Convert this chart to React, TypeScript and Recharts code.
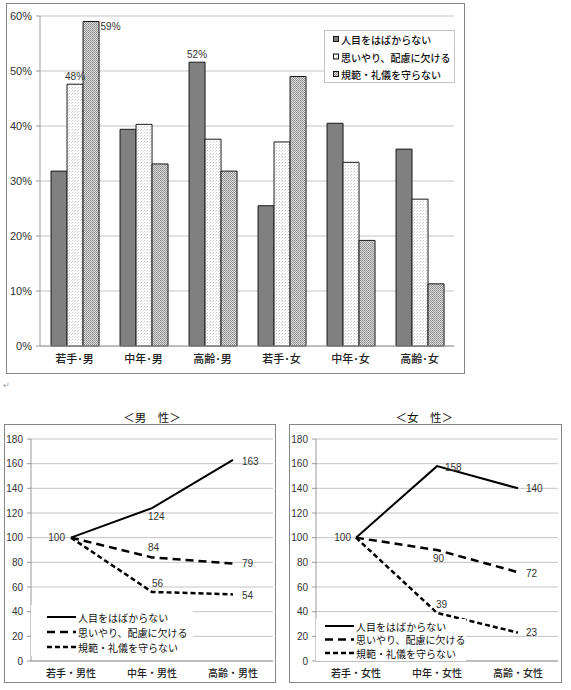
import React from "react";
import {
  BarChart,
  Bar,
  LineChart,
  Line,
  XAxis,
  YAxis,
  CartesianGrid,
  LabelList,
} from "recharts";

// Top bar chart: share of complaints by group (%)
const BAR_CATEGORIES = ["若手･男", "中年･男", "高齢･男", "若手･女", "中年･女", "高齢･女"];
const BAR_HITOME = [31.8, 39.4, 51.6, 25.5, 40.5, 35.8];
const BAR_OMOIYARI = [47.6, 40.3, 37.6, 37.1, 33.4, 26.7];
const BAR_KIHAN = [59.0, 33.1, 31.8, 49.0, 19.2, 11.3];
const PCT_TICKS = [0, 10, 20, 30, 40, 50, 60];
// which bars carry a value label
const LABELED_HITOME = [2];
const LABELED_OMOIYARI = [0];
const LABELED_KIHAN = [0];

const SERIES_NAMES = ["人目をはばからない", "思いやり、配慮に欠ける", "規範・礼儀を守らない"];

// Bottom line charts: index (若手 = 100)
const MALE_CATEGORIES = ["若手・男性", "中年・男性", "高齢・男性"];
const MALE_HITOME = [100, 124, 163];
const MALE_OMOIYARI = [100, 84, 79];
const MALE_KIHAN = [100, 56, 54];

const FEMALE_CATEGORIES = ["若手・女性", "中年・女性", "高齢・女性"];
const FEMALE_HITOME = [100, 158, 140];
const FEMALE_OMOIYARI = [100, 90, 72];
const FEMALE_KIHAN = [100, 39, 23];

const INDEX_TICKS = [0, 20, 40, 60, 80, 100, 120, 140, 160, 180];

const barData = BAR_CATEGORIES.map((name, i) => ({
  name,
  hitome: BAR_HITOME[i],
  omoiyari: BAR_OMOIYARI[i],
  kihan: BAR_KIHAN[i],
}));

const buildLineData = (cats: string[], a: number[], b: number[], c: number[]) =>
  cats.map((name, i) => ({ name, hitome: a[i], omoiyari: b[i], kihan: c[i] }));

const maleData = buildLineData(MALE_CATEGORIES, MALE_HITOME, MALE_OMOIYARI, MALE_KIHAN);
const femaleData = buildLineData(FEMALE_CATEGORIES, FEMALE_HITOME, FEMALE_OMOIYARI, FEMALE_KIHAN);

const JP = '"Noto Sans CJK JP", "Noto Sans", sans-serif';
const NUM = '"Liberation Sans", Arial, sans-serif';

type Place = { dx: number; dy: number; anchor: "start" | "end" | "middle" } | null;

// label offsets for the line charts, per point
const MALE_PLACES: Record<string, Place[]> = {
  hitome: [{ dx: -6, dy: 0, anchor: "end" }, { dx: -4, dy: 8, anchor: "start" }, { dx: 9, dy: 2, anchor: "start" }],
  omoiyari: [null, { dx: -4, dy: -10, anchor: "start" }, { dx: 9, dy: 0, anchor: "start" }],
  kihan: [null, { dx: 0, dy: -8, anchor: "start" }, { dx: 9, dy: 1, anchor: "start" }],
};
const FEMALE_PLACES: Record<string, Place[]> = {
  hitome: [{ dx: -5, dy: 0, anchor: "end" }, { dx: 8, dy: 1, anchor: "start" }, { dx: 8, dy: 0, anchor: "start" }],
  omoiyari: [null, { dx: -4, dy: 8, anchor: "start" }, { dx: 8, dy: 1, anchor: "start" }],
  kihan: [null, { dx: -1, dy: -8, anchor: "start" }, { dx: 8, dy: 0, anchor: "start" }],
};

const LINE_STYLES = [
  { key: "hitome", dash: undefined as string | undefined, width: 2 },
  { key: "omoiyari", dash: "8 5", width: 2.5 },
  { key: "kihan", dash: "5 3", width: 2.5 },
];

function Patterns({ prefix }: { prefix: string }) {
  return (
    <defs>
      <pattern id={`${prefix}-dots`} width="3" height="3" patternUnits="userSpaceOnUse">
        <rect width="3" height="3" fill="#ffffff" />
        <rect x="0" y="0" width="1" height="1" fill="#c8c8c8" />
        <rect x="2" y="1" width="1" height="1" fill="#dddddd" />
      </pattern>
      <pattern id={`${prefix}-hatch`} width="2" height="2" patternUnits="userSpaceOnUse">
        <rect width="2" height="2" fill="#dcdcdc" />
        <rect x="0" y="0" width="1" height="1" fill="#8c8c8c" />
        <rect x="1" y="1" width="1" height="1" fill="#9a9a9a" />
      </pattern>
    </defs>
  );
}

const barLabel = (shown: number[], side: "top" | "right") => (p: any) => {
  const { x, y, width, value, index } = p;
  if (!shown.includes(index)) return null;
  const text = `${Math.round(value)}%`;
  if (side === "right") {
    return (
      <text x={x + width + 1.5} y={y + 5} dominantBaseline="central" fontSize={10} fontFamily={NUM} fill="#333">
        {text}
      </text>
    );
  }
  return (
    <text x={x + width / 2} y={y - 8} textAnchor="middle" dominantBaseline="central" fontSize={10} fontFamily={NUM} fill="#333">
      {text}
    </text>
  );
};

const lineLabel = (places: Place[]) => (p: any) => {
  const { x, y, value, index } = p;
  const pl = places[index];
  if (!pl) return null;
  return (
    <text
      x={x + pl.dx}
      y={y + pl.dy}
      textAnchor={pl.anchor}
      dominantBaseline="central"
      fontSize={10}
      fontFamily={NUM}
      fill="#333"
    >
      {value}
    </text>
  );
};

function TopLegend() {
  const fills = ["#808080", "url(#lg-dots)", "url(#lg-hatch)"];
  return (
    <svg
      width={131}
      height={53}
      style={{ position: "absolute", left: 324, top: 30, background: "#fff" }}
    >
      <Patterns prefix="lg" />
      <rect x={0.5} y={0.5} width={130} height={52} fill="none" stroke="#888" strokeDasharray="1 1" />
      {SERIES_NAMES.map((n, i) => (
        <g key={n}>
          <rect x={9.5} y={6.5 + i * 17.5} width={5} height={5} fill={fills[i]} stroke="#111" strokeWidth={1} />
          <text x={17} y={9.5 + i * 17.5} dominantBaseline="central" fontSize={10} fontWeight={500} fontFamily={JP} fill="#111">
            {n}
          </text>
        </g>
      ))}
    </svg>
  );
}

function LineLegend({ left, top, w, h, x0, rowY, gap }: any) {
  return (
    <svg width={w} height={h} style={{ position: "absolute", left, top, background: "#fff" }}>
      {LINE_STYLES.map((s, i) => (
        <g key={s.key}>
          <line
            x1={x0}
            x2={x0 + 29}
            y1={rowY + i * gap}
            y2={rowY + i * gap}
            stroke="#000"
            strokeWidth={s.width}
            strokeDasharray={s.dash}
          />
          <text x={x0 + 31} y={rowY + i * gap} dominantBaseline="central" fontSize={10} fontFamily={JP} fill="#111">
            {SERIES_NAMES[i]}
          </text>
        </g>
      ))}
    </svg>
  );
}

function IndexChart({ data, places, left, width, right }: any) {
  return (
    <div style={{ position: "absolute", left, top: 400 }}>
      <LineChart width={width} height={290} data={data} margin={{ top: 39, right, bottom: 7, left: 4 }}>
        <CartesianGrid vertical={false} stroke="#c4c4c4" />
        <XAxis
          dataKey="name"
          padding={{ left: 40, right: 40 }}
          height={22}
          tickLine={false}
          tickSize={5}
          tickMargin={4}
          axisLine={{ stroke: "#9a9a9a" }}
          tick={{ fontSize: 10, fontWeight: 500, fontFamily: JP, fill: "#222" }}
        />
        <YAxis
          width={27}
          domain={[0, 180]}
          ticks={INDEX_TICKS}
          interval={0}
          tickSize={4}
          tickMargin={4}
          axisLine={{ stroke: "#9a9a9a" }}
          tickLine={{ stroke: "#9a9a9a" }}
          tick={{ fontSize: 10, fontFamily: NUM, fill: "#333" }}
        />
        {LINE_STYLES.map((s) => (
          <Line
            key={s.key}
            type="linear"
            dataKey={s.key}
            stroke="#000"
            strokeWidth={s.width}
            strokeDasharray={s.dash}
            dot={false}
            activeDot={false}
            isAnimationActive={false}
          >
            <LabelList dataKey={s.key} content={lineLabel(places[s.key])} />
          </Line>
        ))}
      </LineChart>
    </div>
  );
}

export default function App() {
  return (
    <div
      style={{
        position: "absolute",
        left: 0,
        top: 0,
        width: 571,
        height: 690,
        background: "#fff",
        fontFamily: JP,
      }}
    >
      {/* frames */}
      <div style={{ position: "absolute", left: 6, top: 3, width: 459, height: 371, border: "1px solid #868686", boxSizing: "border-box" }} />
      <div style={{ position: "absolute", left: 4, top: 424, width: 272, height: 259, border: "1px solid #868686", boxSizing: "border-box" }} />
      <div style={{ position: "absolute", left: 289, top: 424, width: 273, height: 259, border: "1px solid #868686", boxSizing: "border-box" }} />

      {/* bar chart */}
      <div style={{ position: "absolute", left: 0, top: 0 }}>
        <BarChart
          width={571}
          height={380}
          data={barData}
          margin={{ top: 16, right: 117, bottom: 7, left: 6 }}
          barCategoryGap="16%"
          barGap={0}
        >
          <Patterns prefix="bc" />
          <CartesianGrid vertical={false} stroke="#c4c4c4" />
          <XAxis
            dataKey="name"
            height={27}
            tickLine={false}
            tickSize={5}
            tickMargin={4}
            axisLine={{ stroke: "#9a9a9a" }}
            tick={{ fontSize: 11, fontWeight: 500, fontFamily: JP, fill: "#222" }}
          />
          <YAxis
            width={34}
            domain={[0, 60]}
            ticks={PCT_TICKS}
            interval={0}
            tickFormatter={(v) => `${v}%`}
            tickSize={4}
            tickMargin={4}
            axisLine={{ stroke: "#9a9a9a" }}
            tickLine={{ stroke: "#9a9a9a" }}
            tick={{ fontSize: 11, fontFamily: NUM, fill: "#333" }}
          />
          <Bar dataKey="hitome" fill="#808080" stroke="#1a1a1a" strokeWidth={1} isAnimationActive={false}>
            <LabelList dataKey="hitome" content={barLabel(LABELED_HITOME, "top")} />
          </Bar>
          <Bar dataKey="omoiyari" fill="url(#bc-dots)" stroke="#1a1a1a" strokeWidth={1} isAnimationActive={false}>
            <LabelList dataKey="omoiyari" content={barLabel(LABELED_OMOIYARI, "top")} />
          </Bar>
          <Bar dataKey="kihan" fill="url(#bc-hatch)" stroke="#1a1a1a" strokeWidth={1} isAnimationActive={false}>
            <LabelList dataKey="kihan" content={barLabel(LABELED_KIHAN, "right")} />
          </Bar>
        </BarChart>
      </div>
      <TopLegend />
      <div style={{ position: "absolute", left: 3, top: 380, fontSize: 8, color: "#999", lineHeight: "10px" }}>↵</div>

      {/* titles */}
      <div style={{ position: "absolute", left: 92, top: 409, width: 120, textAlign: "center", fontSize: 11.5, lineHeight: "16px", color: "#111" }}>
        ＜男　性＞
      </div>
      <div style={{ position: "absolute", left: 365, top: 409, width: 120, textAlign: "center", fontSize: 11.5, lineHeight: "16px", color: "#111" }}>
        ＜女　性＞<span style={{ fontSize: 6, color: "#999" }}>.</span>
      </div>

      {/* line charts */}
      <IndexChart data={maleData} places={MALE_PLACES} left={0} width={285} right={12} />
      <IndexChart data={femaleData} places={FEMALE_PLACES} left={285} width={286} right={13} />
      <LineLegend left={31} top={605} w={162} h={51} x0={16} rowY={12} gap={15} />
      <LineLegend left={316} top={619} w={150} h={42} x0={9} rowY={7} gap={13.5} />
    </div>
  );
}
